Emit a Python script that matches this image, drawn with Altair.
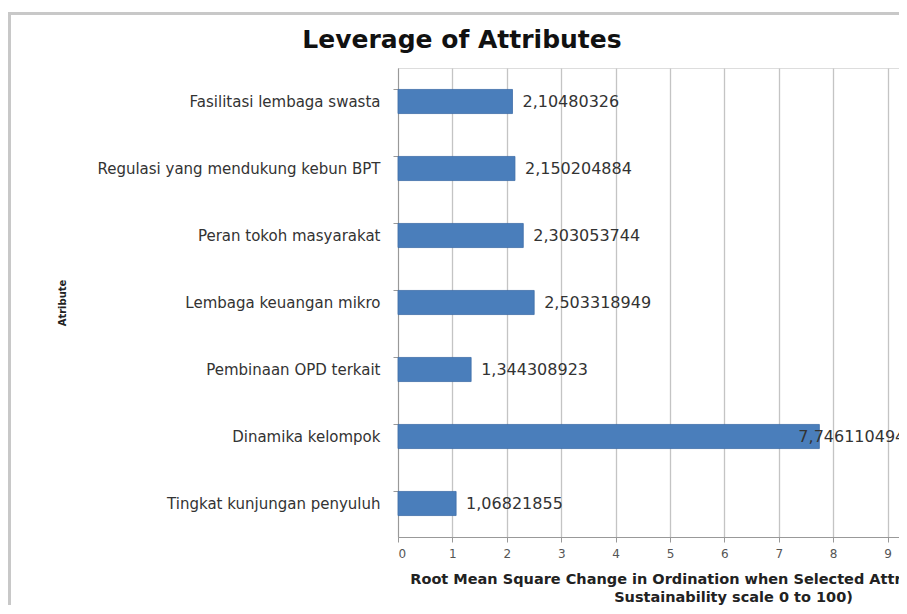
import altair as alt
import pandas as pd

attributes = [
    "Fasilitasi lembaga swasta",
    "Regulasi yang mendukung kebun BPT",
    "Peran tokoh masyarakat",
    "Lembaga keuangan mikro",
    "Pembinaan OPD terkait ",
    "Dinamika kelompok",
    "Tingkat kunjungan penyuluh",
]
values = [2.10480326, 2.150204884, 2.303053744, 2.503318949, 1.344308923, 7.746110494, 1.06821855]
x_ticks = [0, 1, 2, 3, 4, 5, 6, 7, 8, 9]

title_text = "Leverage of Attributes"
x_title = ["Root Mean Square Change in Ordination when Selected Attribute Removed (on",
           "Sustainability scale 0 to 100)"]
y_title = "Atribute"

df = pd.DataFrame({"attr": attributes, "val": values})
df["label"] = [repr(v).replace(".", ",") for v in values]

FONT = "DejaVu Sans"
BAR = "#4a7ebb"

y_enc = alt.Y(
    "attr:N", sort=attributes,
    scale=alt.Scale(paddingInner=0.64, paddingOuter=0.32),
    axis=alt.Axis(
        title=y_title, titleFont=FONT, titleFontSize=10, titleFontWeight="bold",
        titleColor="#222", titleX=-331,
        labelFont=FONT, labelFontSize=15, labelColor="#333", labelPadding=13,
        labelLimit=400,
        tickSize=5, tickColor="#999", domainColor="#999", bandPosition=0,
        grid=False,
    ),
)
x_scale = alt.Scale(domain=[0, 9.21], nice=False, zero=True)

bars = alt.Chart(df).mark_bar(color=BAR, stroke="#3f6fa8", strokeWidth=0.8).encode(
    x=alt.X("val:Q", scale=x_scale,
            axis=alt.Axis(values=x_ticks, title=x_title, format="d",
                          titleFont=FONT, titleFontSize=14.5, titleFontWeight="bold",
                          titleColor="#222", titleX=335, titleAlign="center", titleBaseline="top",
                          titleY=35, titleLineHeight=18,
                          labelFont=FONT, labelFontSize=12, labelColor="#555", labelPadding=6,
                          tickSize=5, tickColor="#999", domainColor="#999",
                          grid=True, gridColor="#c4c4c4", gridWidth=1.3)),
    y=y_enc,
)

labels_out = alt.Chart(df).transform_filter("datum.val < 7").mark_text(
    align="left", baseline="middle", dx=10, font=FONT, fontSize=16, color="#333"
).encode(x=alt.X("val:Q", scale=x_scale), y=alt.Y("attr:N", sort=attributes), text="label:N")

labels_in = alt.Chart(df).transform_filter("datum.val >= 7").mark_text(
    align="left", baseline="middle", dx=-21, font=FONT, fontSize=16, color="#333"
).encode(x=alt.X("val:Q", scale=x_scale), y=alt.Y("attr:N", sort=attributes), text="label:N")

frame = alt.Chart(alt.Data(values=[{}])).mark_rect(
    fill="transparent", stroke="#c8c8c8", strokeWidth=3, clip=False
).encode(x=alt.value(-388.5), x2=alt.value(800), y=alt.value(-54.5), y2=alt.value(800))

chart = alt.layer(frame, bars, labels_out, labels_in).properties(
    width=501, height=469,
    title=alt.TitleParams(title_text, font=FONT, fontSize=25, fontWeight="bold",
                          color="#111", anchor="middle", frame="group", dx=-186.5, offset=-41),
    autosize=alt.AutoSizeParams(type="none"),
    padding={"left": 390, "top": 60, "right": 0, "bottom": 68},
).configure_view(stroke=None).configure(background="white")

chart.save("out.html", embed_options={"renderer": "svg", "actions": False})
